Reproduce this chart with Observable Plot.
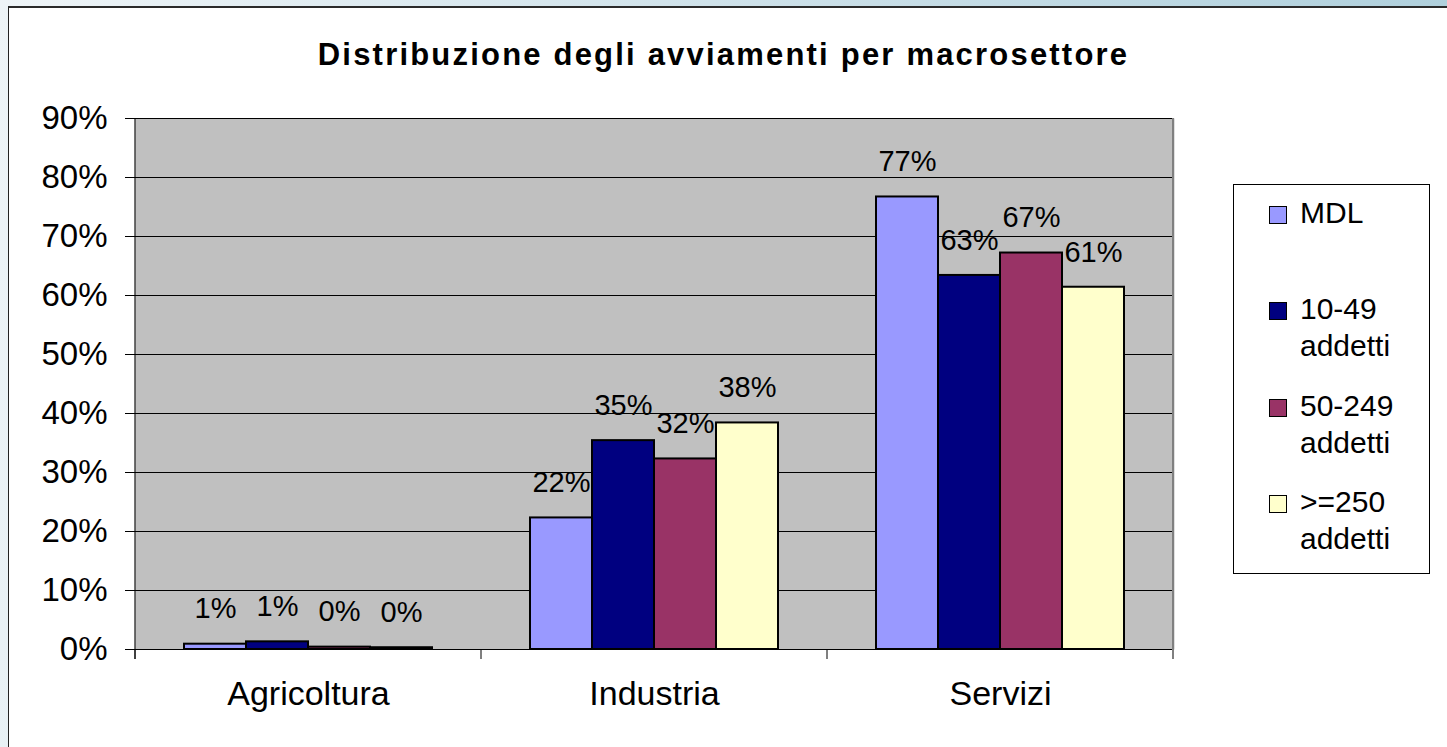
<!DOCTYPE html>
<html>
<head>
<meta charset="utf-8">
<script src="https://cdn.jsdelivr.net/npm/d3@7"></script>
<script src="https://cdn.jsdelivr.net/npm/@observablehq/plot@0.6"></script>
<style>
html, body { margin: 0; padding: 0; }
body {
  width: 1447px; height: 747px; overflow: hidden; position: relative;
  background: linear-gradient(100deg, #eef4f7 0%, #cfe2ea 45%, #aacdda 100%);
  font-family: "Liberation Sans", Arial, sans-serif; color: #000;
}
#card {
  position: absolute; left: 8px; top: 6px; width: 1460px; height: 760px;
  background: #fff; border-left: 1px solid #222; border-top: 2px solid #2a2a2a;
}
#chart { position: absolute; left: 0; top: 0; }
#title {
  position: absolute; left: 0; top: 39px; width: 1447px; text-align: center;
  font-weight: bold; font-size: 31px; line-height: 32px; letter-spacing: 2.2px;
}
#legend {
  position: absolute; left: 1233px; top: 184px; width: 195px; height: 388px;
  border: 1px solid #000; background: #fff;
}
.entry { position: absolute; left: 0; width: 195px; }
.sw { position: absolute; left: 35px; top: 12px; width: 16px; height: 16px; border: 1.5px solid #000; }
.lab { position: absolute; left: 66px; top: 0; font-size: 30px; line-height: 37px; white-space: nowrap; }
</style>
</head>
<body>
<div id="card"></div>
<div id="chart"></div>
<div id="title">Distribuzione degli avviamenti per macrosettore</div>
<div id="legend"></div>
<script>
const categories = ["Agricoltura", "Industria", "Servizi"];
const series = ["MDL", "10-49 addetti", "50-249 addetti", ">=250 addetti"];
const colors = ["#9999FF", "#000080", "#993366", "#FFFFCC"];
const mdl = [0.9, 22.3, 76.7];
const addetti10_49 = [1.3, 35.4, 63.4];
const addetti50_249 = [0.4, 32.3, 67.2];
const addetti250 = [0.3, 38.4, 61.4];
const yTicks = [0, 10, 20, 30, 40, 50, 60, 70, 80, 90];
const titleText = "Distribuzione degli avviamenti per macrosettore";

const seriesValues = [mdl, addetti10_49, addetti50_249, addetti250];
const data = categories.flatMap((c, i) =>
  series.map((s, j) => ({category: c, series: s, value: seriesValues[j][i]}))
);

const chart = Plot.plot({
  width: 1447,
  height: 747,
  marginLeft: 135,
  marginRight: 274,
  marginTop: 118,
  marginBottom: 98,
  style: {background: "transparent", fontFamily: "Liberation Sans, Arial, sans-serif", color: "#000", overflow: "visible"},
  fx: {domain: categories, padding: 0, label: null, axis: null},
  x: {domain: series, paddingInner: 0, paddingOuter: 0.75, axis: null},
  y: {domain: [0, 90], label: null, axis: null},
  color: {domain: series, range: colors},
  marks: [
    Plot.frame({fill: "#c0c0c0", stroke: "none", insetLeft: -1, insetRight: -1}),
    Plot.gridY(yTicks, {stroke: "#000", strokeOpacity: 1, strokeWidth: 1}),
    Plot.ruleY([0], {stroke: "#000", strokeWidth: 1}),
    Plot.barY(data, {fx: "category", x: "series", y: "value", fill: "series", stroke: "#000", strokeWidth: 2}),
    Plot.text(data, {fx: "category", x: "series", y: "value", text: d => d3.format(".0f")(d.value) + "%", dy: -35, fontSize: 29, fill: "#000"}),
    Plot.axisY(yTicks, {anchor: "left", tickSize: 10, tickPadding: 18, tickFormat: d => d + "%", fontSize: 33, label: null, stroke: "#000"}),
    Plot.axisFx({anchor: "bottom", tickSize: 0, tickPadding: 31, fontSize: 34, label: null})
  ]
});
document.getElementById("chart").appendChild(chart);

// axis lines and category separators from the library's scales
const fxs = chart.scale("fx");
const ys = chart.scale("y");
const y0 = ys.apply(0), yTop = ys.apply(90);
const bw = fxs.bandwidth;
const edges = categories.map(c => fxs.apply(c)).concat([fxs.apply(categories[categories.length - 1]) + bw]);
const svg = d3.select(chart.tagName.toLowerCase() === "svg" ? chart : chart.querySelector("svg"));
const g = svg.append("g");
g.append("line").attr("x1", edges[edges.length - 1]).attr("x2", edges[edges.length - 1])
  .attr("y1", yTop).attr("y2", y0 + 10).attr("stroke", "#808080").attr("stroke-width", 2);
g.selectAll("line.sep").data(edges.slice(0, -1)).join("line")
  .attr("x1", d => d).attr("x2", d => d).attr("y1", y0).attr("y2", y0 + 10)
  .attr("stroke", "#000").attr("stroke-width", 1);
g.append("line").attr("x1", edges[0]).attr("x2", edges[0])
  .attr("y1", yTop).attr("y2", y0 + 10).attr("stroke", "#000").attr("stroke-width", 1);

// legend
const legend = document.getElementById("legend");
series.forEach((s, j) => {
  const e = document.createElement("div");
  e.className = "entry";
  e.style.top = (9 + j * 96.3) + "px";
  const sw = document.createElement("div");
  sw.className = "sw";
  sw.style.background = colors[j];
  const lab = document.createElement("div");
  lab.className = "lab";
  lab.innerHTML = s.split(" ").join("<br>");
  e.appendChild(sw); e.appendChild(lab);
  legend.appendChild(e);
});
</script>
</body>
</html>
